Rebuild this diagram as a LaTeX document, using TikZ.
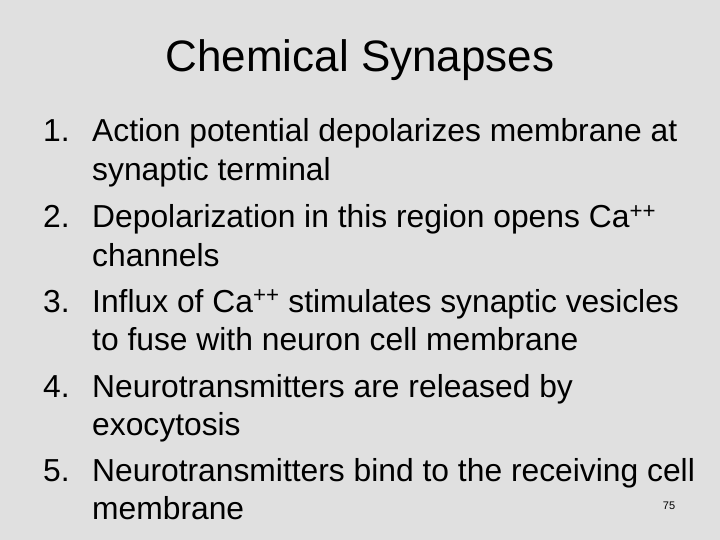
\documentclass[tikz,border=0pt]{standalone}
\usepackage{fontspec}
\setmainfont{Liberation Sans}
\begin{document}
\begin{tikzpicture}[x=1pt,y=-1pt,
  line/.style={anchor=base west,inner sep=0pt,font=\fontsize{31.8}{34}\selectfont},
  num/.style={anchor=base west,inner sep=0pt,font=\fontsize{31.8}{34}\selectfont}]
\fill[fill={rgb,255:red,224;green,224;blue,224}] (0,0) rectangle (720,540);
\useasboundingbox (0,0) rectangle (720,540);
\node[anchor=base,inner sep=0pt,font=\fontsize{44}{46}\selectfont] (title) at (360,72) {Chemical Synapses};
\node[num] (n1) at (43,142) {1.};
\node[line] (l1a) at (92,142) {Action potential depolarizes membrane at};
\node[line] (l1b) at (92,181) {synaptic terminal};
\node[num] (n2) at (43,228) {2.};
\node[line] (l2a) at (92,228) {Depolarization in this region opens Ca\textsuperscript{++}};
\node[line] (l2b) at (92,266) {channels};
\node[num] (n3) at (43,312) {3.};
\node[line] (l3a) at (92,312) {Influx of Ca\textsuperscript{++} stimulates synaptic vesicles};
\node[line] (l3b) at (92,350) {to fuse with neuron cell membrane};
\node[num] (n4) at (43,397) {4.};
\node[line] (l4a) at (92,397) {Neurotransmitters are released by};
\node[line] (l4b) at (92,435) {exocytosis};
\node[num] (n5) at (43,481) {5.};
\node[line] (l5a) at (92,481) {Neurotransmitters bind to the receiving cell};
\node[line] (l5b) at (92,519) {membrane};
\node[anchor=base,inner sep=0pt,font=\fontsize{11}{12}\selectfont] (pg) at (669,509) {75};
\end{tikzpicture}
\end{document}
